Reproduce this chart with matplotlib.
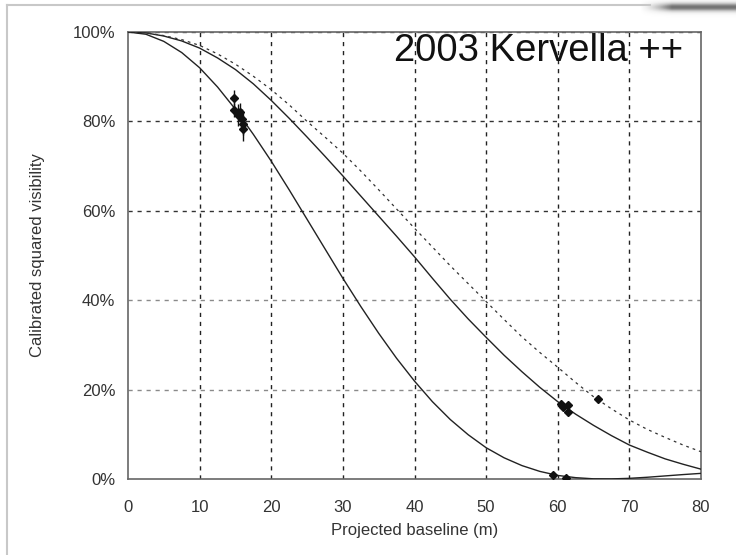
# Calibrated squared visibility versus projected baseline (Kervella 2003).

import numpy as np
import matplotlib
matplotlib.use('Agg')
import matplotlib.pyplot as plt
from matplotlib.lines import Line2D
from matplotlib.ticker import PercentFormatter

plt.rcParams['font.family'] = ['Liberation Sans', 'DejaVu Sans']

# model curves, every 2.5 m (0 .. 80 m)
baseline = np.arange(0, 82.5, 2.5)
v2_small = [1.0, 0.995, 0.979, 0.954, 0.920, 0.877, 0.827, 0.771, 0.711,
            0.647, 0.581, 0.515, 0.449, 0.386, 0.326, 0.270, 0.219, 0.173,
            0.133, 0.099, 0.070, 0.0475, 0.030, 0.017, 0.008, 0.003, 0.0004,
            0.0002, 0.0015, 0.0039, 0.0069, 0.0099, 0.0126]
v2_mid = [1.0, 0.998, 0.991, 0.980, 0.964, 0.942, 0.916, 0.884, 0.847,
          0.807, 0.765, 0.722, 0.678, 0.633, 0.588, 0.543, 0.497, 0.449,
          0.402, 0.358, 0.317, 0.277, 0.240, 0.205, 0.173, 0.145, 0.120,
          0.097, 0.076, 0.060, 0.045, 0.033, 0.022]
v2_dash = [1.0, 0.998, 0.992, 0.983, 0.970, 0.951, 0.928, 0.901, 0.871,
           0.837, 0.800, 0.765, 0.729, 0.689, 0.647, 0.604, 0.561, 0.519,
           0.477, 0.437, 0.397, 0.357, 0.318, 0.283, 0.250, 0.216, 0.184,
           0.157, 0.132, 0.111, 0.093, 0.076, 0.061]

# measured points
pt_b = [14.8, 14.8, 15.4, 15.7, 15.9, 16.0, 16.1,
        59.4, 61.2, 60.4, 60.7, 61.5, 61.5, 65.6]
pt_v2 = [0.852, 0.826, 0.815, 0.822, 0.805, 0.795, 0.782,
         0.009, 0.003, 0.168, 0.160, 0.165, 0.149, 0.180]
pt_err = [0.018, 0.016, 0.025, 0.020, 0.022, 0.025, 0.025,
          0.002, 0.002, 0.004, 0.004, 0.004, 0.004, 0.003]

x_ticks = [0, 10, 20, 30, 40, 50, 60, 70, 80]
y_ticks = [0, 0.2, 0.4, 0.6, 0.8, 1.0]

fig = plt.figure(figsize=(7.36, 5.55), dpi=100)
ax = fig.add_axes([128 / 736, 1 - 479 / 555, 573 / 736, 447 / 555])

# grid
for x in x_ticks[1:-1]:
    ax.axvline(x, color='#222222', lw=1.0, dashes=(3, 3.5), zorder=1)
for y, c in zip([0.2, 0.4, 0.6, 0.8], ['#8a8a8a', '#8a8a8a', '#333333', '#333333']):
    ax.axhline(y, color=c, lw=1.0, dashes=(3, 3.5), zorder=1)
ax.axhline(1.0, color='#555555', lw=1.0, dashes=(3, 3.5), zorder=1)

ax.plot(baseline, v2_small, color='#222222', lw=1.0, zorder=3)
ax.plot(baseline, v2_mid, color='#222222', lw=1.0, zorder=3)
ax.plot(baseline, v2_dash, color='#333333', lw=0.9, dashes=(2.2, 3.2), zorder=3)

ax.errorbar(pt_b, pt_v2, yerr=pt_err, fmt='D', ms=4.5, color='#111111',
            ecolor='#111111', elinewidth=1.0, capsize=0, zorder=4)

ax.set_xlim(0, 80)
ax.set_ylim(0, 1.0)
ax.set_xticks(x_ticks)
ax.set_yticks(y_ticks)
ax.yaxis.set_major_formatter(PercentFormatter(1.0, decimals=0))
ax.tick_params(length=0, labelsize=12, labelcolor='#333333')
ax.tick_params(axis='y', pad=9)
ax.tick_params(axis='x', pad=15)
for s in ax.spines.values():
    s.set_color('#666666')
    s.set_linewidth(1.2)

ax.set_xlabel('Projected baseline (m)', fontsize=12, color='#333333', labelpad=6)
ax.set_ylabel('Calibrated squared visibility', fontsize=12, color='#333333', labelpad=20)

ax.text(0.968, 0.998, '2003 Kervella ++', transform=ax.transAxes, ha='right', va='top',
        fontsize=27.5, color='#111111', zorder=5)

# page frame and shadow
fig.add_artist(Line2D([7 / 736, 7 / 736], [0, 1 - 5 / 555], transform=fig.transFigure,
                      color='#c8c8c8', lw=1.5))
fig.add_artist(Line2D([7 / 736, 650 / 736], [1 - 5 / 555, 1 - 5 / 555], transform=fig.transFigure,
                      color='#c8c8c8', lw=1.5))
sh = fig.add_axes([640 / 736, 1 - 18 / 555, 96 / 736, 18 / 555])
gx = np.clip(np.linspace(0, 3, 96), 0, 1)
gy = np.exp(-((np.linspace(0, 18, 18) - 7) / 5) ** 2)
sh.imshow(np.outer(gy, gx), cmap='Greys', vmin=0, vmax=1.6, aspect='auto')
sh.axis('off')

fig.savefig('out.png', dpi=100)
